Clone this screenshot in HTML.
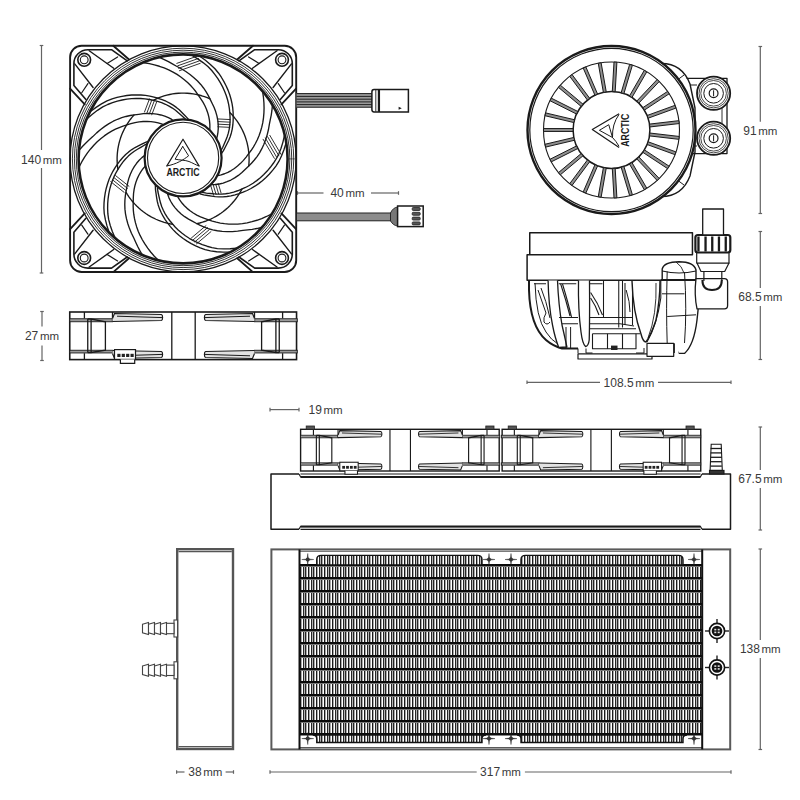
<!DOCTYPE html>
<html><head><meta charset="utf-8"><style>
html,body{margin:0;padding:0;background:#fff;width:800px;height:800px;overflow:hidden}
svg{display:block}
</style></head><body>
<svg width="800" height="800" viewBox="0 0 800 800">
<rect width="800" height="800" fill="#fff"/>
<g stroke="#646464" stroke-width="1.2" fill="none">
<line x1="41.5" y1="45.5" x2="41.5" y2="150"/><line x1="41.5" y1="168" x2="41.5" y2="273"/>
<line x1="39.7" y1="45.5" x2="43.3" y2="45.5"/><line x1="39.7" y1="273" x2="43.3" y2="273"/>
</g>
<text x="41.5" y="163.5" text-anchor="middle" font-family="Liberation Sans, sans-serif" font-size="12" fill="#3a3a3a">140<tspan dx="1.6" font-size="11.5">mm</tspan></text>
<g stroke="#646464" stroke-width="1.2" fill="none">
<line x1="42" y1="311.5" x2="42" y2="326.5"/><line x1="42" y1="345.5" x2="42" y2="360.5"/>
<line x1="40.2" y1="311.5" x2="43.8" y2="311.5"/><line x1="40.2" y1="360.5" x2="43.8" y2="360.5"/>
</g>
<text x="42" y="339.8" text-anchor="middle" font-family="Liberation Sans, sans-serif" font-size="12" fill="#3a3a3a">27<tspan dx="1.6" font-size="11.5">mm</tspan></text>
<g stroke="#646464" stroke-width="1.2" fill="none">
<line x1="297.5" y1="193" x2="323.5" y2="193"/><line x1="371" y1="193" x2="398.5" y2="193"/>
<line x1="297.5" y1="191.2" x2="297.5" y2="194.8"/><line x1="398.5" y1="191.2" x2="398.5" y2="194.8"/>
</g>
<text x="347.5" y="197.3" text-anchor="middle" font-family="Liberation Sans, sans-serif" font-size="12" fill="#3a3a3a">40<tspan dx="1.6" font-size="11.5">mm</tspan></text>
<g stroke="#646464" stroke-width="1.2" fill="none">
<line x1="760.3" y1="46.5" x2="760.3" y2="121.7"/><line x1="760.3" y1="139.7" x2="760.3" y2="213.5"/>
<line x1="758.5" y1="46.5" x2="762.0999999999999" y2="46.5"/><line x1="758.5" y1="213.5" x2="762.0999999999999" y2="213.5"/>
</g>
<text x="760.3" y="134.5" text-anchor="middle" font-family="Liberation Sans, sans-serif" font-size="12" fill="#3a3a3a">91<tspan dx="1.6" font-size="11.5">mm</tspan></text>
<g stroke="#646464" stroke-width="1.2" fill="none">
<line x1="760.3" y1="231.5" x2="760.3" y2="288"/><line x1="760.3" y1="306" x2="760.3" y2="359.5"/>
<line x1="758.5" y1="231.5" x2="762.0999999999999" y2="231.5"/><line x1="758.5" y1="359.5" x2="762.0999999999999" y2="359.5"/>
</g>
<text x="760.3" y="300.5" text-anchor="middle" font-family="Liberation Sans, sans-serif" font-size="12" fill="#3a3a3a">68.5<tspan dx="1.6" font-size="11.5">mm</tspan></text>
<g stroke="#646464" stroke-width="1.2" fill="none">
<line x1="527" y1="382.3" x2="600" y2="382.3"/><line x1="658" y1="382.3" x2="731" y2="382.3"/>
<line x1="527" y1="380.5" x2="527" y2="384.1"/><line x1="731" y1="380.5" x2="731" y2="384.1"/>
</g>
<text x="629" y="386.6" text-anchor="middle" font-family="Liberation Sans, sans-serif" font-size="12" fill="#3a3a3a">108.5<tspan dx="1.6" font-size="11.5">mm</tspan></text>
<g stroke="#646464" stroke-width="1.2" fill="none">
<line x1="760.3" y1="427" x2="760.3" y2="470"/><line x1="760.3" y1="488" x2="760.3" y2="530"/>
<line x1="758.5" y1="427" x2="762.0999999999999" y2="427"/><line x1="758.5" y1="530" x2="762.0999999999999" y2="530"/>
</g>
<text x="760.3" y="483.3" text-anchor="middle" font-family="Liberation Sans, sans-serif" font-size="12" fill="#3a3a3a">67.5<tspan dx="1.6" font-size="11.5">mm</tspan></text>
<g stroke="#646464" stroke-width="1.2" fill="none">
<line x1="760.3" y1="549" x2="760.3" y2="640"/><line x1="760.3" y1="658" x2="760.3" y2="749.5"/>
<line x1="758.5" y1="549" x2="762.0999999999999" y2="549"/><line x1="758.5" y1="749.5" x2="762.0999999999999" y2="749.5"/>
</g>
<text x="760.3" y="652.8" text-anchor="middle" font-family="Liberation Sans, sans-serif" font-size="12" fill="#3a3a3a">138<tspan dx="1.6" font-size="11.5">mm</tspan></text>
<g stroke="#646464" stroke-width="1.2" fill="none">
<line x1="270" y1="772" x2="476.7" y2="772"/><line x1="524.9" y1="772" x2="731" y2="772"/>
<line x1="270" y1="770.2" x2="270" y2="773.8"/><line x1="731" y1="770.2" x2="731" y2="773.8"/>
</g>
<text x="500.5" y="776.3" text-anchor="middle" font-family="Liberation Sans, sans-serif" font-size="12" fill="#3a3a3a">317<tspan dx="1.6" font-size="11.5">mm</tspan></text>
<g stroke="#646464" stroke-width="1.2"><line x1="270" y1="409.6" x2="299" y2="409.6"/><line x1="270" y1="407.8" x2="270" y2="411.4"/><line x1="299" y1="407.8" x2="299" y2="411.4"/></g>
<text x="308.5" y="413.9" text-anchor="start" font-family="Liberation Sans, sans-serif" font-size="12" fill="#3a3a3a">19<tspan dx="1.6" font-size="11.5">mm</tspan></text>
<g stroke="#646464" stroke-width="1.2"><line x1="176.6" y1="772" x2="184.5" y2="772"/><line x1="225.6" y1="772" x2="233.5" y2="772"/><line x1="176.6" y1="770.2" x2="176.6" y2="773.8"/><line x1="233.5" y1="770.2" x2="233.5" y2="773.8"/></g>
<text x="205.3" y="776.3" text-anchor="middle" font-family="Liberation Sans, sans-serif" font-size="12" fill="#3a3a3a">38<tspan dx="1.6" font-size="11.5">mm</tspan></text>
<g fill="none" stroke="#1a1a1a" stroke-linejoin="round" stroke-linecap="round">
<rect x="70.1" y="45.7" width="226.1" height="226.3" rx="11.5" stroke-width="1.9"/>
<circle cx="183.1" cy="158.9" r="113" stroke-width="1.3"/>
<circle cx="183.1" cy="158.9" r="110.7" stroke-width="0.9"/>
<circle cx="183.1" cy="158.9" r="108.7" stroke-width="0.9"/>
<circle cx="183.1" cy="158.9" r="106.8" stroke-width="0.9"/>
<circle cx="183.1" cy="158.9" r="104.5" stroke-width="2.6"/>
<g><path d="M73.9,85.6 L85.9,99.5 M127.25,60.8 L111.5,49.7 L87.9,49.7 A14,14 0 0 0 73.9,63.7 L73.9,85.6" stroke-width="1.6"/>
<path d="M70.1,88.6 L84.75,104.4 M113.25,45.7 L129,59.5" stroke-width="1.8"/>
<path d="M89.2,50.75 L113.7,68.25 M74.75,63.9 L93.1,87.5" stroke-width="1.4"/>
<path d="M107.1,63.4 L117.6,56.9 M81.75,92.75 L87.9,83.6" stroke-width="1.2"/>
<circle cx="84.2" cy="59.8" r="6.4" stroke-width="1.6"/><circle cx="84.2" cy="59.8" r="3.9" stroke-width="1.1"/></g>
<g transform="translate(366.2,0) scale(-1,1)"><path d="M73.9,85.6 L85.9,99.5 M127.25,60.8 L111.5,49.7 L87.9,49.7 A14,14 0 0 0 73.9,63.7 L73.9,85.6" stroke-width="1.6"/>
<path d="M70.1,88.6 L84.75,104.4 M113.25,45.7 L129,59.5" stroke-width="1.8"/>
<path d="M89.2,50.75 L113.7,68.25 M74.75,63.9 L93.1,87.5" stroke-width="1.4"/>
<path d="M107.1,63.4 L117.6,56.9 M81.75,92.75 L87.9,83.6" stroke-width="1.2"/>
<circle cx="84.2" cy="59.8" r="6.4" stroke-width="1.6"/><circle cx="84.2" cy="59.8" r="3.9" stroke-width="1.1"/></g>
<g transform="translate(0,317.8) scale(1,-1)"><path d="M73.9,85.6 L85.9,99.5 M127.25,60.8 L111.5,49.7 L87.9,49.7 A14,14 0 0 0 73.9,63.7 L73.9,85.6" stroke-width="1.6"/>
<path d="M70.1,88.6 L84.75,104.4 M113.25,45.7 L129,59.5" stroke-width="1.8"/>
<path d="M89.2,50.75 L113.7,68.25 M74.75,63.9 L93.1,87.5" stroke-width="1.4"/>
<path d="M107.1,63.4 L117.6,56.9 M81.75,92.75 L87.9,83.6" stroke-width="1.2"/>
<circle cx="84.2" cy="59.8" r="6.4" stroke-width="1.6"/><circle cx="84.2" cy="59.8" r="3.9" stroke-width="1.1"/></g>
<g transform="translate(366.2,317.8) scale(-1,-1)"><path d="M73.9,85.6 L85.9,99.5 M127.25,60.8 L111.5,49.7 L87.9,49.7 A14,14 0 0 0 73.9,63.7 L73.9,85.6" stroke-width="1.6"/>
<path d="M70.1,88.6 L84.75,104.4 M113.25,45.7 L129,59.5" stroke-width="1.8"/>
<path d="M89.2,50.75 L113.7,68.25 M74.75,63.9 L93.1,87.5" stroke-width="1.4"/>
<path d="M107.1,63.4 L117.6,56.9 M81.75,92.75 L87.9,83.6" stroke-width="1.2"/>
<circle cx="84.2" cy="59.8" r="6.4" stroke-width="1.6"/><circle cx="84.2" cy="59.8" r="3.9" stroke-width="1.1"/></g>
<g stroke-width="1.35">
<path d="M202.50,192.36L206.36,193.14L210.43,193.53L214.25,193.87L217.96,194.13L221.77,194.09L225.66,193.74L229.62,193.07L233.62,192.08L237.64,190.76L241.61,189.18L245.46,187.49L249.28,185.50L253.04,183.21L256.73,180.62L260.32,177.73L263.80,174.54L267.15,171.07L270.34,167.31L273.36,163.27L276.18,158.96L278.78,154.10L281.04,148.24L282.93,142.10L284.43,135.71"/>
<path d="M199.89,193.75L203.68,194.83L207.71,195.53L211.49,196.16L215.17,196.70L218.97,196.95L222.88,196.90L226.88,196.54L230.94,195.86L235.05,194.85L239.13,193.58L243.10,192.19L247.06,190.50L250.98,188.51L254.86,186.20L258.67,183.60L262.38,180.69L265.98,177.48L269.45,173.98L272.77,170.18L275.92,166.11L278.88,161.45L281.59,155.78L283.94,149.81L285.93,143.55"/>
<path d="M211.86,184.69L215.56,184.52L219.35,183.97L223.18,183.04L227.03,181.73L230.87,180.02L234.65,177.91L238.35,175.41L241.92,172.51L245.34,169.22L248.51,166.21L251.49,163.26L254.34,160.03L257.04,156.55L259.55,152.80L261.85,148.69L263.91,144.23L265.71,139.53L267.23,134.61L268.47,129.50L269.39,124.19L270.34,119.48L271.24,115.03L271.92,110.45L272.38,105.76"/>
<path d="M217.83,175.71L221.19,174.89L224.54,173.75L227.88,172.30L231.18,170.54L234.40,168.46L237.53,166.07L240.55,163.37L243.42,160.37L246.13,157.08L248.67,153.69L251.08,150.51L253.34,147.12L255.42,143.51L257.32,139.71L259.02,135.71L260.50,131.53L261.77,127.18L262.78,122.64L263.49,117.84L263.92,112.92L264.07,107.87L263.92,102.72L263.47,97.48L262.70,92.17"/>
<path d="M241.91,189.06L240.52,191.65L239.01,194.17L237.39,196.63L235.67,199.00L233.84,201.30L231.92,203.52L229.89,205.65L227.77,207.68L225.57,209.62L223.28,211.46L220.91,213.20L218.46,214.83L215.95,216.34L213.37,217.75L210.73,219.04L208.04,220.21L205.29,221.26L202.51,222.18L199.68,222.98L196.82,223.66"/>
<path d="M213.59,195.22 L210.77,185.71" stroke-width="0.9"/>
<path d="M216.08,194.48 L213.26,184.97" stroke-width="0.9"/>
<path d="M218.57,193.74 L215.75,184.23" stroke-width="0.9"/>
<path d="M221.07,193.00 L218.25,183.49" stroke-width="0.9"/>
<path d="M274.35,158.37 L263.08,139.29" stroke-width="0.9"/>
<path d="M276.58,157.05 L265.32,137.97" stroke-width="0.9"/>
<path d="M278.82,155.73 L267.56,136.65" stroke-width="0.9"/>
<path d="M281.06,154.40 L269.80,135.33" stroke-width="0.9"/>
<path d="M157.46,187.82L157.91,191.74L158.80,195.73L159.65,199.47L160.56,203.07L161.77,206.69L163.31,210.28L165.17,213.84L167.35,217.34L169.85,220.75L172.57,224.04L175.37,227.18L178.44,230.20L181.78,233.07L185.39,235.77L189.25,238.30L193.35,240.62L197.69,242.73L202.25,244.61L207.02,246.23L211.99,247.59L217.43,248.55L223.70,248.89L230.12,248.79L236.66,248.25"/>
<path d="M155.34,185.77L155.48,189.71L156.06,193.76L156.63,197.56L157.25,201.22L158.19,204.91L159.44,208.61L161.02,212.31L162.93,215.96L165.16,219.56L167.62,223.04L170.17,226.39L173.00,229.63L176.11,232.75L179.50,235.72L183.15,238.54L187.07,241.17L191.23,243.61L195.64,245.82L200.27,247.81L205.12,249.54L210.46,250.92L216.69,251.74L223.10,252.14L229.67,252.09"/>
<path d="M167.65,194.36L168.96,197.83L170.65,201.26L172.71,204.62L175.16,207.87L177.97,210.99L181.14,213.94L184.67,216.68L188.53,219.19L192.71,221.43L196.54,223.50L200.28,225.43L204.23,227.15L208.38,228.63L212.71,229.86L217.33,230.78L222.21,231.36L227.24,231.62L232.39,231.55L237.64,231.14L242.97,230.38L247.74,229.83L252.25,229.30L256.82,228.54L261.42,227.53"/>
<path d="M178.04,197.27L179.86,200.20L181.97,203.04L184.38,205.77L187.08,208.36L190.05,210.78L193.29,213.02L196.79,215.05L200.53,216.86L204.50,218.42L208.51,219.79L212.28,221.10L216.20,222.19L220.27,223.06L224.48,223.69L228.81,224.07L233.24,224.19L237.77,224.05L242.40,223.61L247.18,222.80L252.00,221.69L256.84,220.27L261.70,218.54L266.54,216.49L271.35,214.13"/>
<path d="M172.78,224.29L169.89,223.76L167.02,223.11L164.19,222.33L161.39,221.43L158.64,220.40L155.94,219.25L153.29,217.98L150.70,216.60L148.17,215.10L145.72,213.49L143.33,211.78L141.03,209.95L138.81,208.03L136.68,206.01L134.63,203.90L132.69,201.70L130.84,199.42L129.10,197.05L127.47,194.61L125.94,192.10"/>
<path d="M191.41,237.94 L205.95,225.67" stroke-width="0.9"/>
<path d="M193.08,239.93 L207.62,227.66" stroke-width="0.9"/>
<path d="M194.76,241.91 L209.30,229.65" stroke-width="0.9"/>
<path d="M196.44,243.90 L210.98,231.63" stroke-width="0.9"/>
<path d="M147.86,143.59L144.27,145.23L140.75,147.31L137.46,149.28L134.31,151.25L131.25,153.52L128.31,156.10L125.50,158.96L122.84,162.12L120.37,165.55L118.08,169.16L115.96,172.79L114.04,176.64L112.35,180.70L110.89,184.97L109.68,189.42L108.73,194.04L108.07,198.82L107.70,203.74L107.63,208.78L107.87,213.92L108.63,219.39L110.25,225.46L112.33,231.53L114.87,237.59"/>
<path d="M149.15,140.94L145.45,142.29L141.78,144.09L138.35,145.81L135.06,147.53L131.83,149.56L128.70,151.90L125.68,154.54L122.79,157.49L120.06,160.72L117.50,164.14L115.11,167.59L112.90,171.29L110.90,175.21L109.11,179.35L107.57,183.70L106.27,188.23L105.24,192.95L104.49,197.82L104.04,202.84L103.89,207.99L104.23,213.50L105.37,219.67L106.98,225.89L109.05,232.12"/>
<path d="M144.79,155.30L141.90,157.62L139.16,160.29L136.60,163.29L134.26,166.62L132.16,170.26L130.34,174.18L128.82,178.38L127.63,182.83L126.79,187.50L126.00,191.79L125.32,195.94L124.91,200.22L124.79,204.62L124.95,209.13L125.50,213.81L126.46,218.63L127.77,223.49L129.43,228.36L131.44,233.23L133.81,238.06L135.81,242.43L137.70,246.56L139.84,250.67L142.23,254.73"/>
<path d="M145.24,166.08L143.01,168.72L140.96,171.61L139.11,174.74L137.48,178.11L136.10,181.68L134.97,185.46L134.12,189.41L133.55,193.53L133.30,197.79L133.24,202.02L133.15,206.01L133.32,210.08L133.75,214.22L134.46,218.41L135.43,222.65L136.69,226.90L138.22,231.16L140.07,235.43L142.32,239.73L144.86,243.97L147.71,248.14L150.86,252.22L154.30,256.19L158.04,260.04"/>
<path d="M117.91,169.42L117.52,166.51L117.25,163.59L117.12,160.65L117.11,157.72L117.24,154.78L117.50,151.86L117.89,148.95L118.40,146.05L119.05,143.19L119.82,140.35L120.71,137.56L121.73,134.80L122.88,132.10L124.14,129.44L125.52,126.85L127.01,124.32L128.61,121.86L130.32,119.47L132.14,117.16L134.05,114.94"/>
<path d="M115.59,175.61 L128.98,186.28" stroke-width="0.9"/>
<path d="M113.97,177.65 L127.36,188.31" stroke-width="0.9"/>
<path d="M112.35,179.68 L125.74,190.35" stroke-width="0.9"/>
<path d="M110.73,181.71 L124.12,192.38" stroke-width="0.9"/>
<path d="M186.96,120.79L184.29,117.89L181.23,115.18L178.34,112.66L175.49,110.27L172.38,108.07L169.02,106.06L165.43,104.27L161.61,102.72L157.58,101.43L153.44,100.37L149.34,99.47L145.08,98.84L140.69,98.48L136.18,98.41L131.58,98.64L126.89,99.17L122.14,100.02L117.35,101.18L112.53,102.67L107.71,104.50L102.75,106.91L97.48,110.32L92.34,114.17L87.37,118.46"/>
<path d="M189.88,121.20L187.45,118.10L184.61,115.17L181.91,112.43L179.26,109.83L176.33,107.40L173.14,105.14L169.69,103.08L166.00,101.24L162.08,99.64L158.04,98.27L154.01,97.06L149.81,96.10L145.46,95.41L140.98,94.99L136.37,94.86L131.65,95.03L126.85,95.51L121.98,96.31L117.07,97.43L112.13,98.87L106.99,100.90L101.47,103.89L96.05,107.34L90.77,111.24"/>
<path d="M174.87,121.49L171.78,119.46L168.39,117.67L164.75,116.17L160.86,114.97L156.75,114.10L152.45,113.58L147.99,113.43L143.39,113.68L138.69,114.32L134.37,114.90L130.21,115.53L126.01,116.47L121.78,117.71L117.55,119.26L113.27,121.23L108.98,123.63L104.77,126.37L100.64,129.46L96.64,132.87L92.77,136.62L89.24,139.87L85.89,142.95L82.65,146.25L79.52,149.78"/>
<path d="M164.76,125.25L161.57,123.94L158.18,122.89L154.63,122.10L150.93,121.59L147.10,121.38L143.16,121.47L139.13,121.88L135.05,122.62L130.92,123.69L126.87,124.94L123.05,126.09L119.24,127.51L115.43,129.20L111.66,131.17L107.93,133.40L104.27,135.91L100.69,138.69L97.21,141.77L93.82,145.23L90.57,148.96L87.48,152.96L84.58,157.21L81.86,161.71L79.36,166.46"/>
<path d="M153.14,100.29L155.78,99.02L158.48,97.86L161.23,96.83L164.02,95.92L166.85,95.13L169.72,94.47L172.60,93.94L175.51,93.54L178.44,93.26L181.37,93.12L184.31,93.11L187.24,93.23L190.17,93.48L193.08,93.86L195.98,94.37L198.84,95.01L201.68,95.77L204.48,96.66L207.24,97.67L209.94,98.81"/>
<path d="M156.75,101.67 L151.77,114.82" stroke-width="0.9"/>
<path d="M154.32,100.75 L149.34,113.89" stroke-width="0.9"/>
<path d="M151.89,99.83 L146.91,112.97" stroke-width="0.9"/>
<path d="M149.46,98.90 L144.48,112.05" stroke-width="0.9"/>
<path d="M220.72,150.93L222.66,147.50L224.29,143.75L225.80,140.22L227.19,136.77L228.32,133.14L229.19,129.32L229.78,125.35L230.08,121.24L230.06,117.01L229.79,112.75L229.37,108.56L228.66,104.32L227.64,100.03L226.32,95.73L224.68,91.41L222.73,87.12L220.45,82.86L217.86,78.67L214.96,74.55L211.74,70.53L207.91,66.56L203.03,62.60L197.78,58.90L192.16,55.50"/>
<path d="M221.24,153.84L223.44,150.57L225.35,146.96L227.12,143.55L228.77,140.22L230.18,136.68L231.34,132.95L232.23,129.03L232.84,124.96L233.15,120.74L233.21,116.47L233.11,112.26L232.73,107.98L232.04,103.63L231.05,99.23L229.75,94.80L228.13,90.37L226.19,85.95L223.93,81.57L221.35,77.24L218.45,72.99L214.94,68.73L210.38,64.41L205.43,60.32L200.09,56.50"/>
<path d="M216.33,139.65L217.30,136.08L217.95,132.31L218.26,128.38L218.19,124.31L217.75,120.13L216.92,115.88L215.68,111.59L214.03,107.30L211.96,103.03L210.08,99.09L208.19,95.34L206.00,91.63L203.52,87.99L200.74,84.45L197.54,80.99L193.93,77.65L190.02,74.49L185.81,71.52L181.32,68.76L176.56,66.25L172.38,63.89L168.42,61.66L164.28,59.59L159.96,57.71"/>
<path d="M209.63,131.20L209.88,127.76L209.84,124.21L209.49,120.59L208.83,116.91L207.85,113.20L206.55,109.49L204.91,105.78L202.95,102.12L200.65,98.53L198.21,95.07L195.94,91.79L193.41,88.60L190.62,85.50L187.59,82.52L184.31,79.67L180.80,76.97L177.05,74.42L173.04,72.05L168.70,69.90L164.15,67.97L159.40,66.27L154.45,64.81L149.33,63.62L144.05,62.71"/>
<path d="M229.77,112.43L231.80,114.55L233.73,116.76L235.57,119.06L237.30,121.43L238.92,123.88L240.43,126.40L241.83,128.98L243.11,131.63L244.27,134.32L245.31,137.07L246.23,139.86L247.03,142.69L247.69,145.55L248.23,148.43L248.64,151.34L248.92,154.27L249.07,157.20L249.09,160.14L248.98,163.07L248.74,166.00"/>
<path d="M229.76,127.36 L217.89,126.76" stroke-width="0.9"/>
<path d="M229.89,124.77 L218.02,124.17" stroke-width="0.9"/>
<path d="M230.02,122.17 L218.15,121.57" stroke-width="0.9"/>
<path d="M230.15,119.57 L218.28,118.97" stroke-width="0.9"/>
<path d="M200.22,63.33 L179.44,70.71" stroke-width="0.9"/>
<path d="M199.35,60.88 L178.57,68.26" stroke-width="0.9"/>
<path d="M198.48,58.43 L177.70,65.81" stroke-width="0.9"/>
<path d="M197.61,55.98 L176.83,63.36" stroke-width="0.9"/>
</g>
<circle cx="183.1" cy="157.9" r="38.5" fill="#fff" stroke-width="2.2"/>
<circle cx="183.1" cy="157.9" r="35.6" stroke-width="1.1"/>
<path d="M166.9,165.9 L183,139.2 L199,165.9" stroke-width="1.2"/>
<path d="M182.7,146.5 L188.6,155.8 C184,159.5 176,164.5 166.9,165.9 M182.7,146.5 L175.1,159.2 C180,160.2 185,160 189,161.5 C193,163 195.5,165 199,165.9" stroke-width="1"/>
</g>
<text x="166.4" y="175.5" font-family="Liberation Sans, sans-serif" font-weight="bold" font-size="10.2" fill="#1a1a1a" textLength="33.2" lengthAdjust="spacingAndGlyphs">ARCTIC</text>
<rect x="296.5" y="93.1" width="75.4" height="14.5" fill="#9a9a9a"/>
<g stroke="#222" stroke-width="1"><line x1="296.5" y1="93.6" x2="371.9" y2="93.6"/><line x1="296.5" y1="96.4" x2="371.9" y2="96.4"/><line x1="296.5" y1="99.2" x2="371.9" y2="99.2"/><line x1="296.5" y1="101.9" x2="371.9" y2="101.9"/><line x1="296.5" y1="104.6" x2="371.9" y2="104.6"/><line x1="296.5" y1="107.2" x2="371.9" y2="107.2"/></g>
<g fill="none" stroke="#1a1a1a" stroke-width="1.5">
<path d="M379.3,89.6 L408.4,89.6 L408.4,112 L379.3,112 M379.3,89.6 L374,89.6 Q371.9,89.6 371.9,92 L371.9,109.6 Q371.9,112 374,112 L379.3,112 Z"/>
<line x1="375.8" y1="90" x2="375.8" y2="111.6" stroke-width="0.9"/><line x1="378.6" y1="90" x2="378.6" y2="111.6" stroke-width="1.6"/>
</g>
<path d="M398.6,106.7 L401.8,108.2 L398.6,109.8 Z" fill="#1a1a1a"/>
<rect x="296.5" y="213" width="94" height="7.8" fill="#8c8c8c" stroke="#222" stroke-width="1"/>
<path d="M390.5,213 Q393,207.5 397.6,207 L397.6,226 Q393,225.5 390.5,220.8 Z" fill="#777" stroke="#222" stroke-width="0.9"/>
<rect x="397.6" y="206" width="25.6" height="20.6" fill="#fff" stroke="#1a1a1a" stroke-width="1.5"/>
<g fill="#555" stroke="#222" stroke-width="0.8"><rect x="412.2" y="207.5" width="8" height="3" rx="1"/><rect x="412.2" y="212.3" width="8" height="3" rx="1"/><rect x="412.2" y="217.1" width="8" height="3" rx="1"/><rect x="412.2" y="221.9" width="8" height="3" rx="1"/></g>
<g fill="none" stroke="#1a1a1a" stroke-width="1.3">
<rect x="69.75" y="312" width="226.8" height="47.6" stroke-width="1.6"/>
<line x1="171.8" y1="312" x2="171.8" y2="359.6"/><line x1="195.2" y1="312" x2="195.2" y2="359.6"/>
<g><rect x="69.75" y="318.75" width="42.75" height="3" fill="#9a9a9a" stroke-width="0.9"/>
<rect x="69.75" y="350.25" width="42.75" height="2.7" fill="#9a9a9a" stroke-width="0.9"/>
<line x1="84.4" y1="312" x2="84.4" y2="318.4"/><line x1="84.4" y1="353.2" x2="84.4" y2="359.6"/>
<line x1="112.5" y1="312" x2="112.5" y2="321.75"/>
<path d="M87.75,319 L87.75,352.5 M91.1,319 L91.1,352.5 M87.75,319 L91.1,319 L105.4,321.75 L105.4,350.25 L91.1,352.5 L87.75,352.5"/>
<path d="M112.5,318.5 L114.5,313.5 L161.4,314.5 Q162.6,314.8 162.6,317.5 Q162.6,320.2 161.4,320.5 L112.5,321.5" fill="#e2e2e2" stroke-width="1.2"/>
<path d="M117,316.2 L162.4,317.6" stroke-width="1"/>
<path d="M112.5,350.5 L161.4,351.5 Q162.6,351.8 162.6,354.5 Q162.6,357.2 161.4,357.5 L114.5,358.5 L112.5,353.5" fill="#e2e2e2" stroke-width="1.2"/>
<path d="M117,355.8 L162.4,354.4" stroke-width="1"/></g>
<g transform="translate(367,0) scale(-1,1)"><rect x="69.75" y="318.75" width="42.75" height="3" fill="#9a9a9a" stroke-width="0.9"/>
<rect x="69.75" y="350.25" width="42.75" height="2.7" fill="#9a9a9a" stroke-width="0.9"/>
<line x1="84.4" y1="312" x2="84.4" y2="318.4"/><line x1="84.4" y1="353.2" x2="84.4" y2="359.6"/>
<line x1="112.5" y1="312" x2="112.5" y2="321.75"/>
<path d="M87.75,319 L87.75,352.5 M91.1,319 L91.1,352.5 M87.75,319 L91.1,319 L105.4,321.75 L105.4,350.25 L91.1,352.5 L87.75,352.5"/>
<path d="M112.5,318.5 L114.5,313.5 L161.4,314.5 Q162.6,314.8 162.6,317.5 Q162.6,320.2 161.4,320.5 L112.5,321.5" fill="#e2e2e2" stroke-width="1.2"/>
<path d="M117,316.2 L162.4,317.6" stroke-width="1"/>
<path d="M112.5,350.5 L161.4,351.5 Q162.6,351.8 162.6,354.5 Q162.6,357.2 161.4,357.5 L114.5,358.5 L112.5,353.5" fill="#e2e2e2" stroke-width="1.2"/>
<path d="M117,355.8 L162.4,354.4" stroke-width="1"/></g>
</g>
<g fill="#fff" stroke="#1a1a1a" stroke-width="1.2"><rect x="114.5" y="349.6" width="21" height="9.8"/><path d="M120.4,359.4 L120.4,363.4 L134.7,363.4 L134.7,359.4"/></g>
<g fill="#222"><rect x="117.3" y="353.8" width="3.2" height="3.2"/><rect x="121.7" y="353.8" width="3.2" height="3.2"/><rect x="126.1" y="353.8" width="3.2" height="3.2"/><rect x="130.5" y="353.8" width="3.2" height="3.2"/></g>
<g fill="none" stroke="#1a1a1a" stroke-linejoin="round">
<path d="M660,63.5 C675,63 685,71 690,84 L695,108 L695,152 L690,176 C685,189 675,197 660,196.5" fill="#fff" stroke-width="1.4"/>
<path d="M684,75 L676,81 M684,185 L676,179" stroke-width="1"/>
<path d="M686.6,78.3 L727,78.3 L727,153.6 L686.6,153.6" stroke-width="1.3"/>
<path d="M690,85 L697,85 M690,146 L697,146" stroke-width="1"/>
<path d="M722,82 L722,150" stroke-width="0.9"/>
<circle cx="713.6" cy="93.3" r="16.6" fill="#fff" stroke-width="1.8"/>
<circle cx="713.6" cy="93.3" r="14.6" stroke-width="0.8"/>
<circle cx="713.6" cy="93.3" r="12.8" stroke-width="0.8"/>
<circle cx="713.6" cy="93.3" r="9.8" stroke-width="1.0"/>
<circle cx="713.6" cy="93.3" r="4.4" stroke-width="1.2"/>
<line x1="713.6" y1="90.3" x2="713.6" y2="96.3" stroke-width="1"/>
<circle cx="713.6" cy="138.3" r="16.6" fill="#fff" stroke-width="1.8"/>
<circle cx="713.6" cy="138.3" r="14.6" stroke-width="0.8"/>
<circle cx="713.6" cy="138.3" r="12.8" stroke-width="0.8"/>
<circle cx="713.6" cy="138.3" r="9.8" stroke-width="1.0"/>
<circle cx="713.6" cy="138.3" r="4.4" stroke-width="1.2"/>
<line x1="713.6" y1="135.3" x2="713.6" y2="141.3" stroke-width="1"/>
<circle cx="611.5" cy="130" r="84" fill="#fff" stroke-width="2.4"/>
<circle cx="611.5" cy="130" r="81.7" stroke-width="1.2"/>
<circle cx="611.5" cy="130" r="68" stroke-width="1.1"/>
<circle cx="611.5" cy="130" r="38.4" stroke-width="1.5"/>
<path d="M573.10,128.55 L543.50,128.55 L543.50,131.45 L573.10,131.45ZM574.47,119.73 L545.67,112.91 L545.00,115.73 L573.80,122.56ZM577.84,111.47 L551.38,98.19 L550.08,100.78 L576.53,114.06ZM583.02,104.21 L560.34,85.18 L558.48,87.40 L581.15,106.43ZM589.73,98.33 L572.06,74.59 L569.73,76.32 L587.41,100.06ZM597.62,94.17 L585.90,66.99 L583.24,68.14 L594.96,95.31ZM606.26,91.93 L601.12,62.78 L598.26,63.28 L603.40,92.44ZM615.18,91.75 L616.90,62.20 L614.01,62.03 L612.29,91.58ZM623.90,93.63 L632.39,65.27 L629.61,64.44 L621.12,92.80ZM631.96,97.47 L646.76,71.84 L644.24,70.39 L629.44,96.02ZM638.91,103.06 L659.22,81.53 L657.11,79.54 L636.80,101.07ZM644.38,110.11 L669.11,93.84 L667.52,91.42 L642.79,107.69ZM648.08,118.23 L675.90,108.11 L674.90,105.38 L647.09,115.50ZM649.81,126.98 L679.21,123.55 L678.87,120.67 L649.47,124.10ZM649.47,135.90 L678.87,139.33 L679.21,136.45 L649.81,133.02ZM647.09,144.50 L674.90,154.62 L675.90,151.89 L648.08,141.77ZM642.79,152.31 L667.52,168.58 L669.11,166.16 L644.38,149.89ZM636.80,158.93 L657.11,180.46 L659.22,178.47 L638.91,156.94ZM629.44,163.98 L644.24,189.61 L646.76,188.16 L631.96,162.53ZM621.12,167.20 L629.61,195.56 L632.39,194.73 L623.90,166.37ZM612.29,168.42 L614.01,197.97 L616.90,197.80 L615.18,168.25ZM603.40,167.56 L598.26,196.72 L601.12,197.22 L606.26,168.07ZM594.96,164.69 L583.24,191.86 L585.90,193.01 L597.62,165.83ZM587.41,159.94 L569.73,183.68 L572.06,185.41 L589.73,161.67ZM581.15,153.57 L558.48,172.60 L560.34,174.82 L583.02,155.79ZM576.53,145.94 L550.08,159.22 L551.38,161.81 L577.84,148.53ZM573.80,137.44 L545.00,144.27 L545.67,147.09 L574.47,140.27Z" fill="#909090" stroke-width="1.0"/>
<path d="M619.1,113.7 L592.3,129.5 L619.1,147.4" stroke-width="1.2"/>
<path d="M599.4,130.3 L608.75,124.7 L612.5,137.5 Z M612.5,137.5 Q612,124 619,114.5 M612.5,137.5 Q616,141 619,146.25" stroke-width="1"/>
</g>
<text transform="translate(628.8,146.7) rotate(-90)" font-family="Liberation Sans, sans-serif" font-weight="bold" font-size="10.4" fill="#1a1a1a" textLength="33" lengthAdjust="spacingAndGlyphs">ARCTIC</text>
<g fill="none" stroke="#1a1a1a" stroke-linejoin="round" stroke-width="1.3">
<rect x="529.75" y="232.75" width="162.7" height="22" fill="#fff" stroke-width="1.5"/>
<path d="M662,254.7 L527.1,254.7 L527.1,280.3 L662,280.3" fill="#fff" stroke-width="1.5"/>
<path d="M529,280.3 L529,290 Q530,326 546,340 Q553,346 562,348.5 L578,348.5" stroke-width="2"/>
<path d="M535,283 Q536,318 546,332 Q551,340 558,344" stroke-width="1"/>
<path d="M538,290 L546,313 Q543,318 544,322 Q547,326 550,322 M541,288 Q546,300 550,318" stroke-width="1"/>
<path d="M558.75,283.75 L576.25,283.75 M590,283.75 L602.5,283.75 M534,283.75 L546,283.75" stroke-width="1.1"/>
<path d="M548.1,280.5 Q548.5,305 552.5,325 Q555,338 558.75,347.5 L566.9,347 Q565,338 562,325 Q558.5,305 557.5,280.5" fill="#fff" stroke-width="1.3"/>
<path d="M578.5,280.5 Q578,310 581,332 Q582.5,344 585.5,346.5 Q588.5,346 589.2,340 Q589.8,320 589.5,280.5" fill="#fff" stroke-width="1.3"/>
<path d="M560.6,283.75 Q566,300 570,316 M562.5,284 Q568,302 571.5,317" stroke-width="1.1"/>
<path d="M590.6,292.5 Q598,303 602.5,315 M590.6,298 Q596,306 599,315" stroke-width="1.1"/>
<path d="M626.2,290 Q630,302 630,312" stroke-width="1"/>
<path d="M603.5,280 L603.5,317.5 M618.75,280 L618.75,327.5 M622.5,280 L622.5,327.5 M625,283 L625,325 M632.5,283 L632.5,325" stroke-width="1.05"/>
<path d="M632,281 Q633,312 641,334 Q643,342 646,342 Q651,335 656,320 Q660,300 660,281" fill="#fff" stroke-width="1.4"/>
<path d="M656,283 Q657,315 648,338" stroke-width="0.9"/>
<path d="M559,317.5 L578,317.5 M589,317.5 L632,317.5 M562,323.75 L578,323.75 M589,323.75 L620,323.75 L634,326 M589,328.75 L636,328.75 M592.5,333.75 L640,333.75" stroke-width="1"/>
<path d="M566,327 L566,348 M570.6,327 L570.6,348" stroke-width="1"/>
<path d="M592.5,333.75 L592.5,348.75 L636,348.75 L636,333.75 M607.5,333.75 L607.5,348.75 M622.5,333.75 L622.5,348.75" stroke-width="1.1"/>
<path d="M578,348.5 L578,353.5 M586,348.5 L586,353 L592.5,353 M636,353 L644,353 L644,348" stroke-width="1"/>
<path d="M578,353.8 L578,359 L652,359 L652,353.8 L578,353.8" stroke-width="1.2"/>
<rect x="611" y="345.6" width="6.5" height="4.4" fill="#222" stroke="none"/>
<rect x="647" y="343.4" width="26.7" height="12.9" fill="#fff" stroke-width="1.2"/>
<path d="M674.4,343.4 L674.4,353 M678.7,343.4 L678.7,353" stroke-width="1"/>
<path d="M662.2,280 L662.2,269 Q664,262 679,261.8 Q694,262 696,270 L696,282 Q700,300 697,320 Q694,345 684.5,353.4 L678.7,353.4" fill="#fff" stroke-width="1.4"/>
<path d="M662.2,271 Q679,275 696,271" stroke-width="1.1"/>
<path d="M676,262 Q682,266 684,273" stroke-width="0.9"/>
<path d="M660.8,280 L697.4,280" stroke-width="2"/>
<path d="M667.2,271.5 Q666,310 667.2,343.4 M684.5,272 Q687,310 684.5,343 M662,293.8 L684.5,293.8 M667.2,316.5 L696,314.8" stroke-width="1"/>
<path d="M660.8,280 L660.8,298 Q657,325 647,342" stroke-width="1.1"/>
<path d="M696,278.7 L724.5,278.7 Q727.6,278.7 727.6,282 L727.6,305.5 Q727.6,308.9 724.5,308.9 L697,308.9 Q694,295 696,278.7 Z" fill="#fff" stroke-width="1.3"/>
<path d="M702.4,280 Q702.4,290 712,290 Q721.8,290 721.8,280" stroke-width="2"/>
<path d="M703.9,271.5 L703.9,281 M721.8,271.5 L721.8,281" stroke-width="1.2"/>
<path d="M697,263 L729,263 L724.7,271.5 L701,271.5 Z" fill="#fff" stroke-width="1.2"/>
<rect x="696.7" y="252.5" width="32.3" height="10.5" fill="#fff" stroke-width="1.2"/>
<rect x="695.4" y="235" width="34.9" height="17.5" rx="2.5" fill="#fff" stroke-width="2.2"/>
<g fill="#1a1a1a" stroke="none"><rect x="697.30" y="236.5" width="2.3" height="15"/><rect x="704.40" y="236.5" width="2.3" height="15"/><rect x="711.10" y="236.5" width="2.3" height="15"/><rect x="717.80" y="236.5" width="2.3" height="15"/><rect x="724.60" y="236.5" width="2.3" height="15"/></g>
<rect x="702.7" y="209" width="20.8" height="26" fill="#fff" stroke-width="1.3"/>
</g>
<g fill="none" stroke="#1a1a1a" stroke-linejoin="round">
<path d="M299,474 L271,474 L271,529.35 L299,529.35 M702,474 L730.5,474 L730.5,529.35 L702,529.35" stroke-width="1.5"/>
<path d="M299,474 L300.5,476.8 L700.5,476.8 L702,474 M300.5,474 L700.5,474" stroke-width="1.1"/>
<path d="M300.5,477 L700.5,477" stroke-width="2"/>
<path d="M299,529.35 L300.5,526.6 L700.5,526.6 L702,529.35 M300.5,529.35 L700.5,529.35" stroke-width="1.1"/>
<path d="M300.5,526.5 L700.5,526.5" stroke-width="2"/>
</g>
<g fill="#fff" stroke="#1a1a1a" stroke-width="1.1">
<rect x="709.5" y="470.4" width="14.5" height="3.6" fill="#333"/>
<path d="M711.2,444.3 L721.2,444.3 L722.3,470.4 L710.1,470.4 Z"/>
<path d="M710.6,448.5 L721.8,448.5" stroke-width="1.3"/>
<path d="M710.6,452.9 L721.8,452.9" stroke-width="1.3"/>
<path d="M710.6,457.3 L721.8,457.3" stroke-width="1.3"/>
<path d="M710.6,461.7 L721.8,461.7" stroke-width="1.3"/>
<path d="M710.6,466.1 L721.8,466.1" stroke-width="1.3"/>
</g>
<g transform="translate(300.6,429.3) scale(0.8757,0.8761) translate(-69.75,-312)"><g fill="none" stroke="#1a1a1a" stroke-width="1.3">
<rect x="69.75" y="312" width="226.8" height="47.6" stroke-width="1.6"/>
<line x1="171.8" y1="312" x2="171.8" y2="359.6"/><line x1="195.2" y1="312" x2="195.2" y2="359.6"/>
<g><rect x="69.75" y="318.75" width="42.75" height="3" fill="#9a9a9a" stroke-width="0.9"/>
<rect x="69.75" y="350.25" width="42.75" height="2.7" fill="#9a9a9a" stroke-width="0.9"/>
<line x1="84.4" y1="312" x2="84.4" y2="318.4"/><line x1="84.4" y1="353.2" x2="84.4" y2="359.6"/>
<line x1="112.5" y1="312" x2="112.5" y2="321.75"/>
<path d="M87.75,319 L87.75,352.5 M91.1,319 L91.1,352.5 M87.75,319 L91.1,319 L105.4,321.75 L105.4,350.25 L91.1,352.5 L87.75,352.5"/>
<path d="M112.5,318.5 L114.5,313.5 L161.4,314.5 Q162.6,314.8 162.6,317.5 Q162.6,320.2 161.4,320.5 L112.5,321.5" fill="#e2e2e2" stroke-width="1.2"/>
<path d="M117,316.2 L162.4,317.6" stroke-width="1"/>
<path d="M112.5,350.5 L161.4,351.5 Q162.6,351.8 162.6,354.5 Q162.6,357.2 161.4,357.5 L114.5,358.5 L112.5,353.5" fill="#e2e2e2" stroke-width="1.2"/>
<path d="M117,355.8 L162.4,354.4" stroke-width="1"/></g>
<g transform="translate(367,0) scale(-1,1)"><rect x="69.75" y="318.75" width="42.75" height="3" fill="#9a9a9a" stroke-width="0.9"/>
<rect x="69.75" y="350.25" width="42.75" height="2.7" fill="#9a9a9a" stroke-width="0.9"/>
<line x1="84.4" y1="312" x2="84.4" y2="318.4"/><line x1="84.4" y1="353.2" x2="84.4" y2="359.6"/>
<line x1="112.5" y1="312" x2="112.5" y2="321.75"/>
<path d="M87.75,319 L87.75,352.5 M91.1,319 L91.1,352.5 M87.75,319 L91.1,319 L105.4,321.75 L105.4,350.25 L91.1,352.5 L87.75,352.5"/>
<path d="M112.5,318.5 L114.5,313.5 L161.4,314.5 Q162.6,314.8 162.6,317.5 Q162.6,320.2 161.4,320.5 L112.5,321.5" fill="#e2e2e2" stroke-width="1.2"/>
<path d="M117,316.2 L162.4,317.6" stroke-width="1"/>
<path d="M112.5,350.5 L161.4,351.5 Q162.6,351.8 162.6,354.5 Q162.6,357.2 161.4,357.5 L114.5,358.5 L112.5,353.5" fill="#e2e2e2" stroke-width="1.2"/>
<path d="M117,355.8 L162.4,354.4" stroke-width="1"/></g>
</g>
<g fill="#fff" stroke="#1a1a1a" stroke-width="1.2"><rect x="114.5" y="349.6" width="21" height="9.8"/><path d="M120.4,359.4 L120.4,363.4 L134.7,363.4 L134.7,359.4"/></g>
<g fill="#222"><rect x="117.3" y="353.8" width="3.2" height="3.2"/><rect x="121.7" y="353.8" width="3.2" height="3.2"/><rect x="126.1" y="353.8" width="3.2" height="3.2"/><rect x="130.5" y="353.8" width="3.2" height="3.2"/></g></g>
<g transform="translate(700.75,429.3) scale(-0.8757,0.8761) translate(-69.75,-312)"><g fill="none" stroke="#1a1a1a" stroke-width="1.3">
<rect x="69.75" y="312" width="226.8" height="47.6" stroke-width="1.6"/>
<line x1="171.8" y1="312" x2="171.8" y2="359.6"/><line x1="195.2" y1="312" x2="195.2" y2="359.6"/>
<g><rect x="69.75" y="318.75" width="42.75" height="3" fill="#9a9a9a" stroke-width="0.9"/>
<rect x="69.75" y="350.25" width="42.75" height="2.7" fill="#9a9a9a" stroke-width="0.9"/>
<line x1="84.4" y1="312" x2="84.4" y2="318.4"/><line x1="84.4" y1="353.2" x2="84.4" y2="359.6"/>
<line x1="112.5" y1="312" x2="112.5" y2="321.75"/>
<path d="M87.75,319 L87.75,352.5 M91.1,319 L91.1,352.5 M87.75,319 L91.1,319 L105.4,321.75 L105.4,350.25 L91.1,352.5 L87.75,352.5"/>
<path d="M112.5,318.5 L114.5,313.5 L161.4,314.5 Q162.6,314.8 162.6,317.5 Q162.6,320.2 161.4,320.5 L112.5,321.5" fill="#e2e2e2" stroke-width="1.2"/>
<path d="M117,316.2 L162.4,317.6" stroke-width="1"/>
<path d="M112.5,350.5 L161.4,351.5 Q162.6,351.8 162.6,354.5 Q162.6,357.2 161.4,357.5 L114.5,358.5 L112.5,353.5" fill="#e2e2e2" stroke-width="1.2"/>
<path d="M117,355.8 L162.4,354.4" stroke-width="1"/></g>
<g transform="translate(367,0) scale(-1,1)"><rect x="69.75" y="318.75" width="42.75" height="3" fill="#9a9a9a" stroke-width="0.9"/>
<rect x="69.75" y="350.25" width="42.75" height="2.7" fill="#9a9a9a" stroke-width="0.9"/>
<line x1="84.4" y1="312" x2="84.4" y2="318.4"/><line x1="84.4" y1="353.2" x2="84.4" y2="359.6"/>
<line x1="112.5" y1="312" x2="112.5" y2="321.75"/>
<path d="M87.75,319 L87.75,352.5 M91.1,319 L91.1,352.5 M87.75,319 L91.1,319 L105.4,321.75 L105.4,350.25 L91.1,352.5 L87.75,352.5"/>
<path d="M112.5,318.5 L114.5,313.5 L161.4,314.5 Q162.6,314.8 162.6,317.5 Q162.6,320.2 161.4,320.5 L112.5,321.5" fill="#e2e2e2" stroke-width="1.2"/>
<path d="M117,316.2 L162.4,317.6" stroke-width="1"/>
<path d="M112.5,350.5 L161.4,351.5 Q162.6,351.8 162.6,354.5 Q162.6,357.2 161.4,357.5 L114.5,358.5 L112.5,353.5" fill="#e2e2e2" stroke-width="1.2"/>
<path d="M117,355.8 L162.4,354.4" stroke-width="1"/></g>
</g>
<g fill="#fff" stroke="#1a1a1a" stroke-width="1.2"><rect x="114.5" y="349.6" width="21" height="9.8"/><path d="M120.4,359.4 L120.4,363.4 L134.7,363.4 L134.7,359.4"/></g>
<g fill="#222"><rect x="117.3" y="353.8" width="3.2" height="3.2"/><rect x="121.7" y="353.8" width="3.2" height="3.2"/><rect x="126.1" y="353.8" width="3.2" height="3.2"/><rect x="130.5" y="353.8" width="3.2" height="3.2"/></g></g>
<g fill="#555" stroke="#222" stroke-width="0.8"><rect x="306.2" y="426" width="8.2" height="3.3"/><rect x="485.8" y="426" width="8.2" height="3.3"/><rect x="508.2" y="426" width="8.2" height="3.3"/><rect x="686" y="426" width="8.2" height="3.3"/></g>
<defs><pattern id="fins" patternUnits="userSpaceOnUse" x="300" y="564" width="8" height="13"><rect x="0" y="0" width="8" height="13" fill="#fff"/><rect x="1" y="0" width="1" height="13" fill="#a8a8a8"/><rect x="4" y="0" width="1" height="13" fill="#b4b4b4"/><rect x="6" y="0" width="1" height="13" fill="#a8a8a8"/><rect x="0" y="0" width="1" height="13" fill="#1a1a1a"/><rect x="3" y="0" width="1" height="13" fill="#262626"/><rect x="5" y="0" width="1" height="13" fill="#262626"/><rect x="0" y="0" width="8" height="2" fill="#0a0a0a"/><rect x="0" y="2" width="8" height="1" fill="#777"/></pattern><pattern id="fins2" patternUnits="userSpaceOnUse" x="300" y="564" width="8" height="13"><rect x="0" y="0" width="8" height="13" fill="#fff"/><rect x="1" y="0" width="1" height="13" fill="#a8a8a8"/><rect x="4" y="0" width="1" height="13" fill="#b4b4b4"/><rect x="6" y="0" width="1" height="13" fill="#a8a8a8"/><rect x="0" y="0" width="1" height="13" fill="#1a1a1a"/><rect x="3" y="0" width="1" height="13" fill="#262626"/><rect x="5" y="0" width="1" height="13" fill="#262626"/></pattern></defs>
<rect x="299.5" y="564" width="402.5" height="171" fill="url(#fins)"/>
<rect x="299.5" y="733" width="402.5" height="2.5" fill="#0a0a0a"/>
<path d="M316.75,565 L316.75,559.5 Q316.75,555.4 321.25,555.4 L477.5,555.4 Q482,555.4 482,559.5 L482,565 Z" fill="url(#fins2)" stroke="#111" stroke-width="1.4"/>
<path d="M312.75,735 Q316.75,735 316.75,739 L316.75,742.5 L482,742.5 L482,739 Q482,735 486,735 Z" fill="url(#fins2)" stroke="#111" stroke-width="1.4"/>
<path d="M521,565 L521,559.5 Q521,555.4 525.5,555.4 L678.5,555.4 Q683,555.4 683,559.5 L683,565 Z" fill="url(#fins2)" stroke="#111" stroke-width="1.4"/>
<path d="M517,735 Q521,735 521,739 L521,742.5 L683,742.5 L683,739 Q683,735 687,735 Z" fill="url(#fins2)" stroke="#111" stroke-width="1.4"/>
<path d="M307.75,553.5 L308.35,558.9 L313.75,559.5 L308.35,560.1 L307.75,565.5 L307.15,560.1 L301.75,559.5 L307.15,558.9 Z" fill="#222" stroke="#222" stroke-width="0.4"/><circle cx="307.75" cy="559.5" r="2" fill="#333"/>
<path d="M307.75,732.6 L308.35,738.0 L313.75,738.6 L308.35,739.2 L307.75,744.6 L307.15,739.2 L301.75,738.6 L307.15,738.0 Z" fill="#222" stroke="#222" stroke-width="0.4"/><circle cx="307.75" cy="738.6" r="2" fill="#333"/>
<path d="M489,553.5 L489.6,558.9 L495,559.5 L489.6,560.1 L489,565.5 L488.4,560.1 L483,559.5 L488.4,558.9 Z" fill="#222" stroke="#222" stroke-width="0.4"/><circle cx="489" cy="559.5" r="2" fill="#333"/>
<path d="M489,732.6 L489.6,738.0 L495,738.6 L489.6,739.2 L489,744.6 L488.4,739.2 L483,738.6 L488.4,738.0 Z" fill="#222" stroke="#222" stroke-width="0.4"/><circle cx="489" cy="738.6" r="2" fill="#333"/>
<path d="M511,553.5 L511.6,558.9 L517,559.5 L511.6,560.1 L511,565.5 L510.4,560.1 L505,559.5 L510.4,558.9 Z" fill="#222" stroke="#222" stroke-width="0.4"/><circle cx="511" cy="559.5" r="2" fill="#333"/>
<path d="M511,732.6 L511.6,738.0 L517,738.6 L511.6,739.2 L511,744.6 L510.4,739.2 L505,738.6 L510.4,738.0 Z" fill="#222" stroke="#222" stroke-width="0.4"/><circle cx="511" cy="738.6" r="2" fill="#333"/>
<path d="M694,553.5 L694.6,558.9 L700,559.5 L694.6,560.1 L694,565.5 L693.4,560.1 L688,559.5 L693.4,558.9 Z" fill="#222" stroke="#222" stroke-width="0.4"/><circle cx="694" cy="559.5" r="2" fill="#333"/>
<path d="M694,732.6 L694.6,738.0 L700,738.6 L694.6,739.2 L694,744.6 L693.4,739.2 L688,738.6 L693.4,738.0 Z" fill="#222" stroke="#222" stroke-width="0.4"/><circle cx="694" cy="738.6" r="2" fill="#333"/>
<g fill="none" stroke="#5a5a5a">
<rect x="271.4" y="549.4" width="458.8" height="200" stroke-width="2"/>
<line x1="299.5" y1="551.3" x2="702" y2="551.3" stroke-width="1"/>
<line x1="299.5" y1="747.5" x2="702" y2="747.5" stroke-width="1"/>
</g>
<g stroke="#111"><line x1="299.5" y1="549.4" x2="299.5" y2="749.4" stroke-width="2"/><line x1="702.2" y1="549.4" x2="702.2" y2="749.4" stroke-width="2"/></g>
<g stroke="#222" fill="none"><line x1="717" y1="619" x2="717" y2="643" stroke-width="1.4"/><line x1="705" y1="631" x2="729" y2="631" stroke-width="1.4"/></g>
<circle cx="717" cy="631" r="7.6" fill="#fff" stroke="#111" stroke-width="1.6"/>
<circle cx="717" cy="631" r="5.3" fill="#111"/>
<g fill="#ddd"><rect x="714.3" y="628.8" width="2" height="1.6"/><rect x="717.7" y="628.8" width="2" height="1.6"/><rect x="714.3" y="631.6" width="2" height="1.6"/><rect x="717.7" y="631.6" width="2" height="1.6"/></g>
<g stroke="#222" fill="none"><line x1="717" y1="655.5" x2="717" y2="679.5" stroke-width="1.4"/><line x1="705" y1="667.5" x2="729" y2="667.5" stroke-width="1.4"/></g>
<circle cx="717" cy="667.5" r="7.6" fill="#fff" stroke="#111" stroke-width="1.6"/>
<circle cx="717" cy="667.5" r="5.3" fill="#111"/>
<g fill="#ddd"><rect x="714.3" y="665.3" width="2" height="1.6"/><rect x="717.7" y="665.3" width="2" height="1.6"/><rect x="714.3" y="668.1" width="2" height="1.6"/><rect x="717.7" y="668.1" width="2" height="1.6"/></g>
<g fill="none" stroke="#555">
<rect x="177.2" y="549.2" width="55.8" height="199.8" stroke-width="2.4"/>
<path d="M178.5,551.6 L231.8,551.6 M178.5,746.6 L231.8,746.6" stroke-width="1.2"/>
</g>
<g fill="#fff" stroke="#444" stroke-width="1.1">
<rect x="174" y="620.0" width="3.6" height="17" />
<rect x="166" y="623.3" width="8" height="10.4"/>
<path d="M142.5,624.2 L148.5,622.5 L148.5,634.5 L142.5,632.8 Z"/>
<path d="M148.5,624.2 L154.5,622.5 L154.5,634.5 L148.5,632.8 Z"/>
<path d="M154.5,624.2 L160.5,622.5 L160.5,634.5 L154.5,632.8 Z"/>
<path d="M160.5,624.2 L166.5,622.5 L166.5,634.5 L160.5,632.8 Z"/>
</g>
<g fill="#fff" stroke="#444" stroke-width="1.1">
<rect x="174" y="661.8" width="3.6" height="17" />
<rect x="166" y="665.0999999999999" width="8" height="10.4"/>
<path d="M142.5,666.0 L148.5,664.3 L148.5,676.3 L142.5,674.5999999999999 Z"/>
<path d="M148.5,666.0 L154.5,664.3 L154.5,676.3 L148.5,674.5999999999999 Z"/>
<path d="M154.5,666.0 L160.5,664.3 L160.5,676.3 L154.5,674.5999999999999 Z"/>
<path d="M160.5,666.0 L166.5,664.3 L166.5,676.3 L160.5,674.5999999999999 Z"/>
</g>
</svg></body></html>
